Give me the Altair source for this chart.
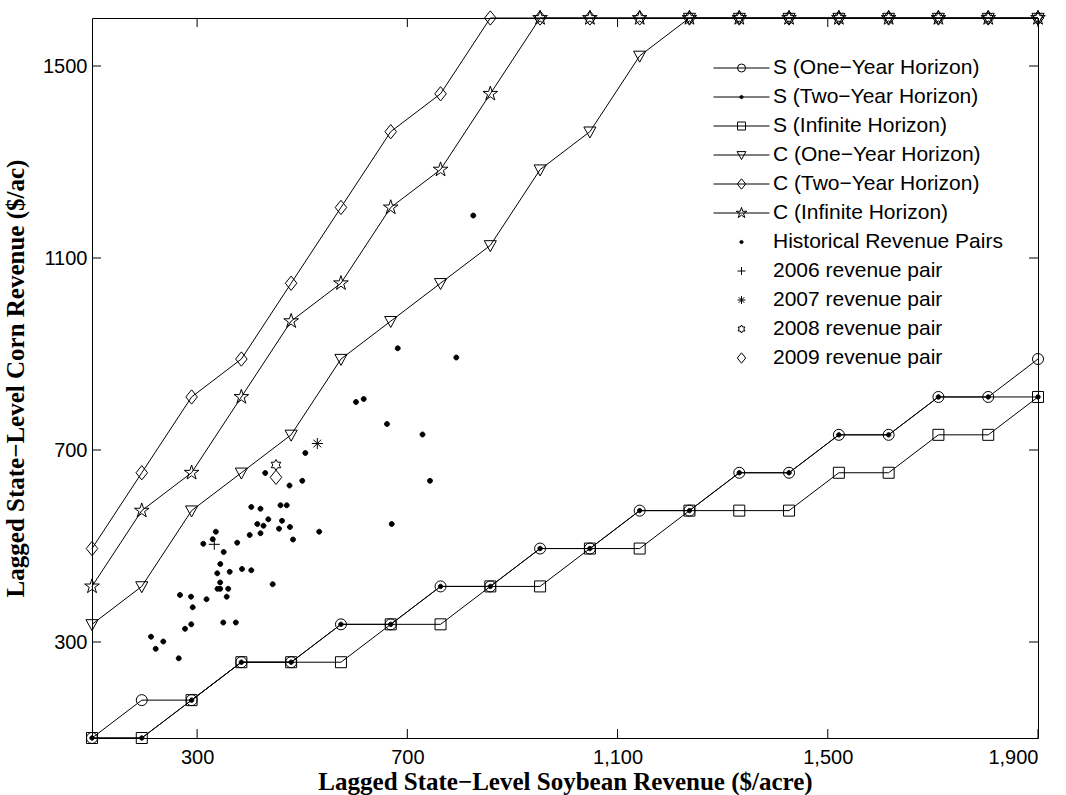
import altair as alt
import pandas as pd

MINUS = "\u2212"

# ---------------- data ----------------
x_grid = [100, 194.7, 289.5, 384.2, 478.9, 573.7, 668.4, 763.2, 857.9, 952.6,
          1047.4, 1142.1, 1236.8, 1331.6, 1426.3, 1521.1, 1615.8, 1710.5, 1805.3, 1900]

s_one = [100, 178.9, 178.9, 257.9, 257.9, 336.8, 336.8, 415.8, 415.8, 494.7,
         494.7, 573.7, 573.7, 652.6, 652.6, 731.6, 731.6, 810.5, 810.5, 889.5]
s_two = [100, 100, 178.9, 257.9, 257.9, 336.8, 336.8, 415.8, 415.8, 494.7,
         494.7, 573.7, 573.7, 652.6, 652.6, 731.6, 731.6, 810.5, 810.5, 810.5]
s_inf = [100, 100, 178.9, 257.9, 257.9, 257.9, 336.8, 336.8, 415.8, 415.8,
         494.7, 494.7, 573.7, 573.7, 573.7, 652.6, 652.6, 731.6, 731.6, 810.5]
c_one = [336.8, 415.8, 573.7, 652.6, 731.6, 889.5, 968.4, 1047.4, 1126.3, 1284.2,
         1363.2, 1521.1, 1600, 1600, 1600, 1600, 1600, 1600, 1600, 1600]
c_two = [494.7, 652.6, 810.5, 889.5, 1047.4, 1205.3, 1363.2, 1442.1, 1600, 1600,
         1600, 1600, 1600, 1600, 1600, 1600, 1600, 1600, 1600, 1600]
c_inf = [415.8, 573.7, 652.6, 810.5, 968.4, 1047.4, 1205.3, 1284.2, 1442.1, 1600,
         1600, 1600, 1600, 1600, 1600, 1600, 1600, 1600, 1600, 1600]

hist_x = [825.5, 681.7, 793.2, 602.3, 617.0, 661.3, 728.9, 505.9, 500.1, 743.1,
          429.6, 475.8, 458.7, 470.5, 403.1, 420.6, 435.5, 461.5, 414.5, 426.3,
          476.7, 455.8, 532.3, 670.3, 335.6, 420.6, 400.1, 329.7, 482.5, 376.3,
          311.8, 350.6, 344.1, 385.4, 403.1, 362.0, 338.4, 343.9, 443.8, 338.8,
          343.9, 359.2, 356.3, 267.4, 288.4, 317.9, 291.6, 288.9, 277.0, 349.8,
          373.6, 212.3, 235.7, 221.2, 265.0]
hist_y = [1188.5, 911.9, 892.7, 800.0, 806.3, 754.2, 732.3, 693.8, 635.8, 635.8,
          652.1, 626.0, 584.8, 584.8, 581.3, 577.7, 555.6, 552.5, 545.8, 542.3,
          539.6, 536.0, 529.8, 545.8, 529.8, 526.5, 522.9, 514.2, 513.5, 506.9,
          504.6, 487.5, 462.5, 452.1, 449.4, 446.3, 443.1, 424.0, 420.4, 410.8,
          410.8, 410.8, 394.4, 397.9, 394.4, 389.0, 372.3, 336.9, 327.5, 340.6,
          340.6, 311.0, 301.0, 285.8, 266.0]

year_labels = ["2006 revenue pair", "2007 revenue pair", "2008 revenue pair", "2009 revenue pair"]
year_x = [332.7, 528.7, 450.1, 450.1]
year_y = [503.5, 713.5, 668.8, 643.1]

x_ticks = [300, 700, 1100, 1500, 1900]
y_ticks = [300, 700, 1100, 1500]

line_names = [f"S (One{MINUS}Year Horizon)", f"S (Two{MINUS}Year Horizon)", "S (Infinite Horizon)",
              f"C (One{MINUS}Year Horizon)", f"C (Two{MINUS}Year Horizon)", "C (Infinite Horizon)"]
hist_name = "Historical Revenue Pairs"
all_names = line_names + [hist_name] + year_labels

# ---------------- tables ----------------
rows = []
for name, ys in zip(line_names, [s_one, s_two, s_inf, c_one, c_two, c_inf]):
    for xv, yv in zip(x_grid, ys):
        rows.append({"x": xv, "y": yv, "series": name, "lseries": name})
lines_df = pd.DataFrame(rows)
hist_df = pd.DataFrame({"x": hist_x, "y": hist_y, "series": hist_name})
year_df = pd.DataFrame({"x": year_x, "y": year_y, "series": year_labels})
xt_df = pd.DataFrame({"x": x_ticks})
yt_df = pd.DataFrame({"y": y_ticks})

# ---------------- marker shapes ----------------
DOT = "M-0.4,0A0.4,0.4 0 1,0 0.4,0A0.4,0.4 0 1,0 -0.4,0Z"
TRI = "M-1.1,-0.85L1.1,-0.85L0,1.15Z"
DIA = "M0,-1.3L1.05,0L0,1.3L-1.05,0Z"
PENT = ("M0,-1.4L0.314,-0.433L1.331,-0.433L0.508,0.165L0.823,1.133L0,0.535"
        "L-0.823,1.133L-0.508,0.165L-1.331,-0.433L-0.314,-0.433Z")
PLUS = "M-1,0H1M0,-1V1"
AST = "M-1,0H1M0,-1V1M-0.7,-0.7L0.7,0.7M-0.7,0.7L0.7,-0.7"
HEX = ("M0,-1L0.2887,-0.5L0.866,-0.5L0.577,0L0.866,0.5L0.2887,0.5L0,1"
       "L-0.2887,0.5L-0.866,0.5L-0.577,0L-0.866,-0.5L-0.2887,-0.5Z")
shape_range = ["circle", DOT, "square", TRI, DIA, PENT, DOT, PLUS, AST, HEX, DIA]
fill_range = ["transparent", "black", "transparent", "transparent", "transparent", "transparent",
              "black", "transparent", "transparent", "transparent", "transparent"]

W, H = 946, 720
FONT = "Liberation Sans"
TFONT = "Liberation Serif"

xscale = alt.Scale(domain=[100, 1900], nice=False, zero=False)
yscale = alt.Scale(domain=[100, 1600], nice=False, zero=False)
xaxis = alt.Axis(values=x_ticks, format=",.0f", ticks=False, domain=False, grid=False,
                 labelFont=FONT, labelFontSize=20, labelColor="black", labelPadding=9,
                 titleFont=TFONT, titleFontSize=25, titleFontWeight="bold", titleColor="black",
                 titlePadding=2)
yaxis = alt.Axis(values=y_ticks, format="d", ticks=False, domain=False, grid=False,
                 labelFont=FONT, labelFontSize=20, labelColor="black", labelPadding=5,
                 titleFont=TFONT, titleFontSize=25, titleFontWeight="bold", titleColor="black",
                 titlePadding=14)
XT = f"Lagged State{MINUS}Level Soybean Revenue ($/acre)"
YT = f"Lagged State{MINUS}Level Corn Revenue ($/ac)"
X = alt.X("x:Q", scale=xscale, axis=xaxis, title=XT)
Y = alt.Y("y:Q", scale=yscale, axis=yaxis, title=YT)

LX, LY = 639, 39.5
common_leg = dict(title=None, orient="none", legendX=LX, legendY=LY, symbolSize=64,
                  labelFont=FONT, labelFontSize=21, labelColor="black", labelOffset=21,
                  labelLimit=500, rowPadding=7.0, padding=0, symbolStrokeWidth=1,
                  symbolStrokeColor="black")
leg_points = alt.Legend(**common_leg)
leg_lines = alt.Legend(symbolType="M-7,0H7", labelOpacity=0, **common_leg)

shape_enc = alt.Shape("series:N", scale=alt.Scale(domain=all_names, range=shape_range), legend=leg_points)
fill_enc = alt.Fill("series:N", scale=alt.Scale(domain=all_names, range=fill_range), legend=leg_points)
stroke_enc = alt.Stroke("series:N", scale=alt.Scale(domain=all_names, range=["black"] * 11), legend=leg_points)

lines = alt.Chart(lines_df).mark_line(strokeWidth=1).encode(
    x=X, y=Y,
    color=alt.Color("lseries:N", scale=alt.Scale(domain=line_names, range=["black"] * 6), legend=leg_lines),
)
markers = alt.Chart(lines_df).mark_point(size=121, strokeWidth=1, opacity=1).encode(
    x=X, y=Y, shape=shape_enc, fill=fill_enc, stroke=stroke_enc)
hist = alt.Chart(hist_df).mark_point(size=150, strokeWidth=1, opacity=1).encode(
    x=X, y=Y, shape=shape_enc, fill=fill_enc, stroke=stroke_enc)
years = alt.Chart(year_df).mark_point(size=121, strokeWidth=1, opacity=1).encode(
    x=X, y=Y, shape=shape_enc, fill=fill_enc, stroke=stroke_enc)

TL = 9
xt_bottom = alt.Chart(xt_df).mark_rule(color="black", strokeWidth=1).encode(
    x=X, y=alt.value(H), y2=alt.value(H - TL))
xt_top = alt.Chart(xt_df).mark_rule(color="black", strokeWidth=1).encode(
    x=X, y=alt.value(0), y2=alt.value(TL))
yt_left = alt.Chart(yt_df).mark_rule(color="black", strokeWidth=1).encode(
    y=Y, x=alt.value(0), x2=alt.value(TL))
yt_right = alt.Chart(yt_df).mark_rule(color="black", strokeWidth=1).encode(
    y=Y, x=alt.value(W), x2=alt.value(W - TL))

chart = alt.layer(lines, markers, hist, years, xt_bottom, xt_top, yt_left, yt_right).properties(
    width=W, height=H,
    autosize=alt.AutoSizeParams(type="none"),
    padding={"left": 92, "top": 18, "right": 28, "bottom": 57},
    background="white",
).configure_view(stroke="black", strokeWidth=1)

chart.save("out.html", embed_options={"renderer": "svg", "actions": False})
